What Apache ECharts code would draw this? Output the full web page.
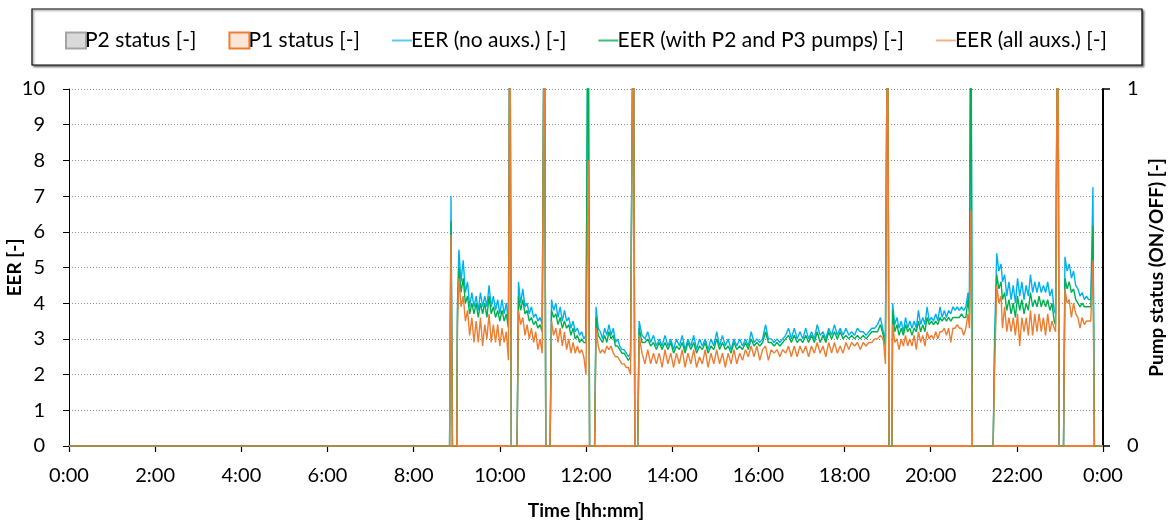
<!DOCTYPE html>
<html>
<head>
<meta charset="utf-8">
<script src="https://cdn.jsdelivr.net/npm/echarts@6/dist/echarts.min.js"></script>
<style>
  html, body { margin: 0; padding: 0; background: #fff; }
  #chart { width: 1173px; height: 524px; }
</style>
</head>
<body>
<div id="chart"></div>
<script>
// Sample times in minutes after midnight (0 .. 1440)
const minutes = [
  0, 530, 532, 534, 540,
  541, 543, 546, 549, 552, 555, 558, 561, 564, 567, 570, 573, 576, 579, 582, 585, 588, 591, 594, 597, 600, 603, 606, 609, 612, 614, 616, 624,
  626, 629, 632, 635, 638, 641, 644, 647, 650, 653, 656, 659, 662, 664, 670,
  672, 675, 678, 681, 684, 687, 690, 693, 696, 699, 702, 705, 708, 711, 714, 717, 720, 723, 725, 732,
  734, 737, 740, 743, 746, 749, 752, 755, 758, 761, 764, 767, 770, 773, 776, 779, 782, 786, 788, 792,
  794, 798, 802, 806, 810, 814, 818, 822, 826, 830, 834, 838, 842, 846, 850, 854, 858, 862, 866, 870,
  874, 878, 882, 886, 890, 894, 898, 902, 906, 910, 914, 918, 922, 926, 930, 934, 938, 942, 946, 950,
  954, 958, 962, 966, 970, 974, 978, 982, 986, 990, 994, 998, 1002, 1006, 1010, 1014, 1018, 1022, 1026, 1030,
  1034, 1038, 1042, 1046, 1050, 1054, 1058, 1062, 1066, 1070, 1074, 1078, 1082, 1086, 1090, 1094, 1098, 1102, 1106, 1110,
  1114, 1118, 1122, 1126, 1130, 1134, 1137, 1140, 1142, 1146,
  1147, 1150, 1153, 1156, 1159, 1162, 1165, 1168, 1171, 1174, 1177, 1180, 1183, 1186, 1189, 1192, 1195, 1198, 1201, 1204,
  1207, 1210, 1213, 1216, 1219, 1222, 1225, 1228, 1231, 1234, 1237, 1240, 1243, 1246, 1249, 1252, 1254, 1256, 1258, 1287,
  1289, 1292, 1295, 1298, 1300, 1303, 1306, 1309, 1312, 1315, 1318, 1321, 1324, 1327, 1330, 1333, 1336, 1339, 1342, 1345,
  1348, 1351, 1354, 1357, 1360, 1363, 1366, 1369, 1372, 1374, 1377, 1379, 1385,
  1387, 1390, 1393, 1396, 1399, 1402, 1405, 1408, 1411, 1414, 1417, 1420, 1423, 1426, 1428, 1440
];

// EER without auxiliaries [-]
const eerNoAux = [
  0, 0, 7.0, 0, 0,
  4.0, 5.5, 4.6, 5.2, 4.3, 4.6, 3.9, 4.3, 3.9, 4.2, 3.8, 4.3, 3.9, 4.2, 3.9, 4.5, 3.9, 4.2, 3.8, 4.1, 3.7, 4.1, 3.7, 4.0, 3.5, 14, 0, 0,
  4.6, 4.0, 4.4, 3.9, 4.0, 3.7, 3.9, 3.6, 3.7, 3.5, 3.6, 3.4, 14, 0, 0,
  4.1, 3.8, 4.0, 3.6, 3.9, 3.5, 3.8, 3.5, 3.6, 3.3, 3.5, 3.2, 3.3, 3.1, 3.2, 3.0, 3.1, 14, 0, 0,
  3.9, 3.3, 3.2, 3.0, 3.3, 3.1, 3.4, 3.1, 3.3, 2.9, 3.0, 2.8, 2.7, 2.7, 2.6, 2.5, 2.6, 14, 0, 0,
  3.5, 3.1, 3.0, 3.2, 2.9, 3.1, 2.8, 3.0, 2.8, 3.1, 2.8, 3.0, 2.7, 3.0, 2.8, 3.1, 2.7, 3.0, 2.8, 3.1,
  2.7, 3.0, 2.8, 3.0, 2.7, 3.0, 2.8, 3.2, 2.8, 3.1, 2.8, 3.0, 2.7, 3.0, 2.8, 3.0, 2.8, 3.0, 2.8, 3.2,
  2.9, 3.0, 2.9, 3.0, 3.4, 3.0, 3.0, 2.9, 3.0, 2.9, 3.0, 3.1, 3.3, 3.0, 3.3, 3.0, 3.2, 3.0, 3.3, 3.0,
  3.2, 3.0, 3.4, 3.1, 3.2, 3.0, 3.3, 3.1, 3.4, 3.1, 3.3, 3.1, 3.3, 3.1, 3.2, 3.1, 3.3, 3.2, 3.2, 3.1,
  3.2, 3.3, 3.3, 3.4, 3.6, 3.2, 3.0, 14, 0, 0,
  4.0, 3.4, 3.6, 3.3, 3.5, 3.2, 3.6, 3.3, 3.5, 3.3, 3.5, 3.3, 3.8, 3.4, 3.6, 3.4, 3.9, 3.5, 3.6, 3.5,
  3.7, 3.5, 3.9, 3.6, 3.8, 3.6, 3.8, 3.7, 3.9, 3.8, 3.9, 3.8, 3.9, 3.8, 3.9, 4.3, 3.9, 14, 0, 0,
  3.0, 5.4, 4.9, 5.1, 4.6, 4.8, 4.2, 4.6, 4.1, 4.5, 4.0, 4.7, 4.2, 4.6, 4.1, 4.5, 4.2, 4.8, 4.3, 4.6,
  4.3, 4.6, 4.3, 4.5, 4.3, 4.6, 4.2, 4.4, 3.8, 3.7, 14, 0, 0,
  5.3, 4.9, 5.1, 4.7, 4.9, 4.5, 4.4, 4.2, 4.3, 4.1, 4.2, 4.1, 4.1, 7.25, 0, 0
];

// EER including the P2 and P3 pumps [-]
const eerP2P3 = [
  0, 0, 6.3, 0, 0,
  3.7, 5.0, 4.3, 4.7, 4.0, 4.2, 3.7, 4.0, 3.7, 4.0, 3.6, 4.0, 3.7, 4.0, 3.6, 4.2, 3.7, 3.9, 3.6, 3.8, 3.5, 3.8, 3.5, 3.7, 3.3, 14, 0, 0,
  4.2, 3.8, 4.1, 3.7, 3.8, 3.5, 3.6, 3.4, 3.5, 3.3, 3.4, 3.2, 14, 0, 0,
  3.8, 3.6, 3.7, 3.4, 3.6, 3.3, 3.5, 3.3, 3.4, 3.1, 3.3, 3.0, 3.1, 2.9, 3.0, 2.9, 2.9, 14, 0, 0,
  3.6, 3.1, 3.0, 2.9, 3.1, 2.9, 3.2, 3.0, 3.1, 2.8, 2.8, 2.7, 2.6, 2.6, 2.5, 2.4, 2.5, 14, 0, 0,
  3.3, 2.9, 2.9, 3.0, 2.8, 2.9, 2.7, 2.9, 2.7, 2.9, 2.7, 2.9, 2.6, 2.8, 2.7, 2.9, 2.6, 2.9, 2.7, 2.9,
  2.6, 2.8, 2.7, 2.9, 2.6, 2.8, 2.7, 3.0, 2.7, 2.9, 2.7, 2.8, 2.6, 2.9, 2.7, 2.8, 2.7, 2.9, 2.7, 3.0,
  2.8, 2.9, 2.8, 2.9, 3.2, 2.9, 2.9, 2.8, 2.9, 2.8, 2.9, 3.0, 3.1, 2.9, 3.1, 2.9, 3.0, 2.9, 3.1, 2.9,
  3.1, 2.9, 3.2, 2.9, 3.1, 2.9, 3.2, 3.0, 3.2, 3.0, 3.2, 3.0, 3.1, 3.0, 3.1, 3.0, 3.1, 3.0, 3.1, 3.0,
  3.1, 3.2, 3.2, 3.2, 3.4, 3.1, 2.8, 14, 0, 0,
  3.8, 3.2, 3.4, 3.1, 3.3, 3.1, 3.4, 3.2, 3.3, 3.1, 3.3, 3.2, 3.5, 3.2, 3.4, 3.2, 3.6, 3.4, 3.5, 3.4,
  3.5, 3.4, 3.6, 3.5, 3.6, 3.5, 3.6, 3.5, 3.6, 3.6, 3.6, 3.6, 3.7, 3.6, 3.6, 4.1, 3.7, 14, 0, 0,
  2.6, 4.8, 4.4, 4.6, 4.1, 4.3, 3.8, 4.1, 3.7, 4.0, 3.6, 4.2, 3.8, 4.1, 3.7, 4.0, 3.8, 4.3, 3.9, 4.1,
  3.9, 4.2, 3.9, 4.1, 3.9, 4.1, 3.8, 4.0, 3.5, 3.4, 14, 0, 0,
  4.7, 4.4, 4.6, 4.3, 4.4, 4.1, 4.0, 3.9, 4.0, 3.9, 3.9, 3.9, 3.9, 6.17, 0, 0
];

// EER including all auxiliaries [-]
const eerAllAux = [
  0, 0, 5.9, 0, 0,
  3.4, 4.7, 3.9, 4.2, 3.5, 3.8, 3.1, 3.6, 2.9, 3.5, 2.9, 3.6, 2.8, 3.4, 3.0, 3.7, 2.9, 3.4, 2.9, 3.4, 2.8, 3.3, 2.9, 3.2, 2.4, 14, 0, 0,
  3.8, 3.4, 3.6, 3.1, 3.4, 3.0, 3.3, 2.9, 3.2, 2.7, 3.0, 2.6, 14, 0, 0,
  3.5, 3.1, 3.3, 2.9, 3.3, 2.8, 3.2, 2.7, 3.0, 2.6, 2.9, 2.6, 2.8, 2.6, 2.7, 2.5, 2.0, 8.0, 0, 0,
  3.3, 2.8, 2.6, 2.7, 2.6, 2.8, 2.7, 2.8, 2.6, 2.5, 2.5, 2.4, 2.3, 2.3, 2.2, 2.2, 2.0, 14, 0, 0,
  3.1, 2.6, 2.3, 2.7, 2.3, 2.6, 2.3, 2.6, 2.2, 2.7, 2.3, 2.6, 2.2, 2.6, 2.3, 2.7, 2.2, 2.6, 2.3, 2.7,
  2.2, 2.5, 2.3, 2.7, 2.2, 2.6, 2.3, 2.7, 2.3, 2.6, 2.2, 2.6, 2.3, 2.7, 2.3, 2.6, 2.4, 2.7, 2.5, 2.8,
  2.5, 2.8, 2.4, 2.7, 2.8, 2.4, 2.7, 2.6, 2.7, 2.5, 2.7, 2.6, 2.8, 2.5, 2.8, 2.5, 2.8, 2.6, 2.8, 2.5,
  2.8, 2.6, 2.9, 2.6, 2.8, 2.5, 2.9, 2.6, 2.9, 2.6, 2.8, 2.6, 2.9, 2.7, 2.9, 2.8, 2.9, 2.7, 2.9, 2.8,
  2.9, 2.9, 3.0, 3.0, 3.1, 3.0, 2.3, 14, 0, 0,
  3.4, 2.9, 3.0, 2.7, 3.0, 2.8, 3.1, 2.8, 3.0, 2.8, 3.1, 2.7, 3.2, 2.9, 3.1, 2.8, 3.2, 3.0, 3.1, 3.0,
  3.2, 3.0, 3.2, 3.2, 3.3, 3.1, 3.3, 2.9, 3.3, 3.3, 3.4, 3.3, 3.3, 3.1, 3.3, 3.7, 3.3, 6.6, 0, 0,
  2.1, 4.5, 4.0, 4.2, 3.3, 3.9, 3.2, 3.6, 3.2, 3.6, 3.1, 3.7, 2.8, 3.6, 3.2, 3.6, 3.1, 3.8, 3.1, 3.7,
  3.2, 3.7, 3.2, 3.6, 3.1, 3.7, 3.2, 3.5, 3.3, 3.2, 14, 0, 0,
  4.4, 4.0, 4.1, 3.6, 4.0, 3.7, 3.6, 3.3, 3.6, 3.4, 3.5, 3.5, 3.5, 5.2, 0, 0
];

// Pump ON/OFF status [-]
const statusMinutes = [0, 1440];
const p2Status = [0, 0];
const p1Status = [0, 0];

const xTickLabels = ['0:00', '2:00', '4:00', '6:00', '8:00', '10:00', '12:00',
                     '14:00', '16:00', '18:00', '20:00', '22:00', '0:00'];

const seriesNames = ['P2 status [-]', 'P1 status [-]', 'EER (no auxs.) [-]',
                     'EER (with P2 and P3 pumps) [-]', 'EER (all auxs.) [-]'];

const pair = (xs, ys) => xs.map((x, i) => [x, ys[i]]);

const FONT = 'Lato, "Liberation Sans", sans-serif';
const BLUE = '#00B0F0', GREEN = '#00B050', ORANGE = '#ED7D31';
const LINE_ICON = 'path://M0,0 H20 V2 H0 Z';

const chart = echarts.init(document.getElementById('chart'), null, { renderer: 'canvas' });

chart.setOption({
  animation: false,
  backgroundColor: '#fff',
  textStyle: { fontFamily: FONT, color: '#000' },
  graphic: [{
    type: 'rect',
    shape: { x: 32, y: 9, width: 1110, height: 56 },
    style: { fill: '#fff', stroke: '#000', lineWidth: 1.2,
             shadowColor: 'rgba(0,0,0,0.45)', shadowBlur: 2, shadowOffsetX: 1.5, shadowOffsetY: 1.5 },
    z: -1
  }],
  legend: {
    left: 60,
    top: 25,
    itemGap: 32,
    itemWidth: 20,
    itemHeight: 16,
    textStyle: { fontFamily: FONT, fontSize: 21, color: '#000', padding: [0, 0, 0, -6] },
    data: [
      { name: seriesNames[0], icon: 'rect', itemStyle: { color: '#D9D9D9', borderColor: '#A5A5A5', borderWidth: 2 } },
      { name: seriesNames[1], icon: 'rect', itemStyle: { color: '#FBE5D6', borderColor: ORANGE, borderWidth: 2 } },
      { name: seriesNames[2], icon: LINE_ICON, itemStyle: { color: '#5CC9F2', borderWidth: 0 } },
      { name: seriesNames[3], icon: LINE_ICON, itemStyle: { color: '#3DBE74', borderWidth: 0 } },
      { name: seriesNames[4], icon: LINE_ICON, itemStyle: { color: '#F4B183', borderWidth: 0 } }
    ]
  },
  grid: { left: 69, right: 70, top: 89, bottom: 78, containLabel: false, outerBoundsMode: 'none' },
  xAxis: {
    type: 'value',
    min: 0, max: 1440, interval: 120,
    name: 'Time [hh:mm]',
    nameLocation: 'middle',
    nameGap: 55,
    nameMoveOverlap: false,
    nameTextStyle: { fontFamily: FONT, fontSize: 19, fontWeight: 'bold', color: '#000' },
    axisLine: { show: true, onZero: false, lineStyle: { color: '#000', width: 1.5 } },
    axisTick: { show: true, length: 6, lineStyle: { color: '#000', width: 1.2 } },
    axisLabel: { fontFamily: FONT, fontSize: 20, color: '#000', margin: 20,
                 formatter: v => xTickLabels[Math.round(v / 120)] },
    splitLine: { show: false }
  },
  yAxis: [{
    type: 'value',
    min: 0, max: 10, interval: 1,
    name: 'EER [-]',
    nameLocation: 'middle',
    nameRotate: 90,
    nameGap: 45,
    nameMoveOverlap: false,
    nameTextStyle: { fontFamily: FONT, fontSize: 19, fontWeight: 'bold', color: '#000' },
    axisLine: { show: true, lineStyle: { color: '#000', width: 1 } },
    axisTick: { show: true, length: 6, lineStyle: { color: '#000' } },
    axisLabel: { fontFamily: FONT, fontSize: 20, color: '#000', margin: 24 },
    splitLine: { show: true, lineStyle: { color: '#8C8C8C', type: [1, 2], width: 1 } }
  }, {
    type: 'value',
    position: 'right',
    min: 0, max: 1, interval: 1,
    name: 'Pump status (ON/OFF) [-]',
    nameLocation: 'middle',
    nameRotate: 90,
    nameGap: 44,
    nameMoveOverlap: false,
    nameTextStyle: { fontFamily: FONT, fontSize: 19, fontWeight: 'bold', color: '#000' },
    axisLine: { show: true, lineStyle: { color: '#000', width: 2 } },
    axisTick: { show: true, length: 7, lineStyle: { color: '#000', width: 1.5 } },
    axisLabel: { fontFamily: FONT, fontSize: 20, color: '#000', margin: 24 },
    splitLine: { show: false }
  }],
  series: [{
    name: seriesNames[0], type: 'line', yAxisIndex: 1,
    data: pair(statusMinutes, p2Status),
    symbol: 'none',
    lineStyle: { color: '#A5A5A5', width: 2 },
    itemStyle: { color: '#A5A5A5' },
    areaStyle: { color: '#D9D9D9' }
  }, {
    name: seriesNames[1], type: 'line', yAxisIndex: 1,
    data: pair(statusMinutes, p1Status),
    symbol: 'none',
    lineStyle: { color: ORANGE, width: 2 },
    itemStyle: { color: ORANGE },
    areaStyle: { color: '#FBE5D6' }
  }, {
    name: seriesNames[2], type: 'line',
    data: pair(minutes, eerNoAux),
    symbol: 'none',
    lineStyle: { color: BLUE, width: 1.4 },
    itemStyle: { color: BLUE }
  }, {
    name: seriesNames[3], type: 'line',
    data: pair(minutes, eerP2P3),
    symbol: 'none',
    lineStyle: { color: GREEN, width: 1.4 },
    itemStyle: { color: GREEN }
  }, {
    name: seriesNames[4], type: 'line',
    data: pair(minutes, eerAllAux),
    symbol: 'none',
    lineStyle: { color: ORANGE, width: 1.4 },
    itemStyle: { color: ORANGE }
  }]
});
</script>
</body>
</html>
